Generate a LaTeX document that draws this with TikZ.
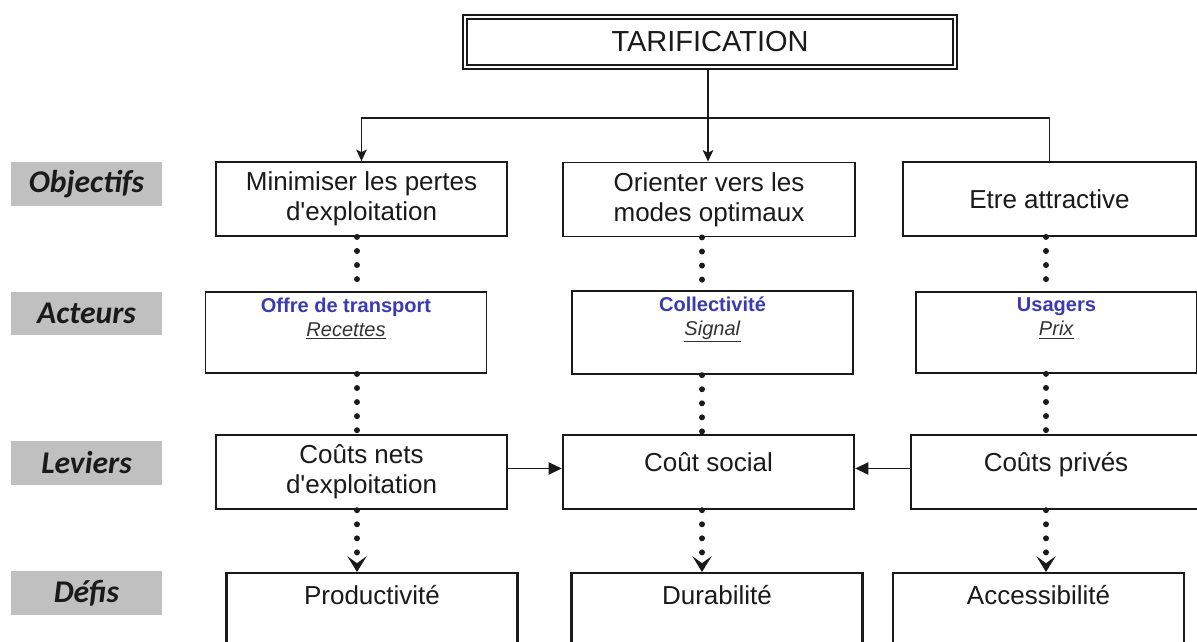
\documentclass[tikz,border=0pt]{standalone}
\usepackage{fontspec}
\setmainfont{Liberation Sans}
\newfontfamily\tfcalibri{Carlito}
\usepackage{xcolor}
\definecolor{tfink}{HTML}{1A1A1A}
\definecolor{tfgray}{HTML}{C0C0C0}
\definecolor{tfblue}{HTML}{3A3AB2}
\definecolor{tfsub}{HTML}{333333}
\usepackage{tikz}
\usetikzlibrary{arrows.meta,positioning,calc}
\tikzset{
  tfbox/.style   ={rectangle, draw=tfink, fill=white, line width=1.1pt,
                   minimum width=5.82cm, minimum height=1.48cm, align=center,
                   font=\fontsize{14.8}{17}\selectfont, text=tfink},
  tftitle/.style ={tfbox, double, double distance=1.2pt, line width=1pt,
                   minimum width=9.8cm, minimum height=1.0cm,
                   font=\fontsize{16.5}{19}\selectfont},
  tfact/.style   ={tfbox, line width=1pt, minimum width=5.62cm, minimum height=1.62cm,
                   font=\fontsize{11.4}{13.6}\selectfont},
  tflev/.style   ={tfbox, line width=1.4pt},
  tfhigh/.style  ={tflev, text height=0.36cm, text depth=0.40cm},
  tfdef/.style   ={tfbox, line width=1.4pt, anchor=north, minimum height=0pt,
                   inner ysep=0pt, text height=0.62cm, text depth=1.6cm},
  tfcat/.style   ={rectangle, fill=tfgray, minimum width=3.02cm, minimum height=0.88cm,
                   font=\tfcalibri\bfseries\itshape\fontsize{18}{20}\selectfont, text=tfink},
  tfline/.style  ={line width=0.75pt, draw=tfink},
  tfarrow/.style ={tfline, -{Stealth[length=6.5pt,width=6pt,inset=1.5pt]}},
  tftri/.style   ={tfline, -{Triangle[length=7.5pt,width=7pt]}},
  tfdots/.style  ={line width=3.4pt, draw=tfink, line cap=round,
                   dash pattern=on 0pt off 8pt},
  tfdotarr/.style={tfdots, -{Stealth[length=9pt,width=11pt,inset=4pt]}},
}
\newcommand{\tfactor}[2]{{\color{tfblue}\bfseries #1}\\
  {\color{tfsub}\underline{\textit{#2}}}\\ \strut}
\newcommand{\tfap}{\textquotesingle{}}

\begin{document}
\begin{tikzpicture}[x=0.02cm, y=-0.02cm]
  \useasboundingbox (0,0) rectangle (1197,642);
  \clip (0,0) rectangle (1197,642);
  \node[tftitle] (tarif) at (710,42) {TARIFICATION};
  % lignes
  \node[tfcat] (catobj) at (86.5,184)   {Objectifs};
  \node[tfcat] (catact) at (86.5,313.5) {Acteurs};
  \node[tfcat] (catlev) at (86.5,463)   {Leviers};
  \node[tfcat] (catdef) at (86.5,593)   {Défis};
  \node[tfbox] (obj1) at (361.5,199) {Minimiser les pertes\\d\tfap exploitation};
  \node[tfbox, minimum width=5.84cm] (obj2) at (709,199.5) {Orienter vers les\\modes optimaux};
  \node[tfbox, minimum width=5.86cm] (obj3) at (1049.5,199) {Etre attractive};
  \node[tfact] (act1) at (346,332.5)    {\tfactor{Offre de transport}{Recettes}};
  \node[tfact] (act2) at (712.5,332.5)  {\tfactor{Collectivité}{Signal}};
  \node[tfact] (act3) at (1056.5,332.5) {\tfactor{Usagers}{Prix}};
  \node[tflev]  (lev1) at (361.5,472) {Coûts nets\\d\tfap exploitation};
  \node[tfhigh] (lev2) at (708.5,472) {Coût social};
  \node[tfhigh, minimum width=5.8cm] (lev3) at (1056,472) {Coûts privés};
  \node[tfdef] (def1) at (372,572)    {Productivité};
  \node[tfdef] (def2) at (717,572)    {Durabilité};
  \node[tfdef] (def3) at (1038.5,572) {Accessibilité};
  % liaisons
  \coordinate (split) at (708,118);
  \coordinate (colA) at (357,0);
  \coordinate (colB) at (702,0);
  \coordinate (colC) at (1046,0);
  \draw[tfline] (tarif.south -| split) -- (split);
  \draw[tfarrow] (split) -| (obj1);
  \draw[tfarrow] (split) -- (split |- obj2.north);
  \draw[tfline] (split) -| (obj3);
  \foreach \c/\col in {1/colA, 2/colB, 3/colC}{
    \draw[tfdots] (obj\c.south -| \col) -- (act\c.north -| \col);
    \draw[tfdots] (act\c.south -| \col) -- (lev\c.north -| \col);
    \draw[tfdotarr] (lev\c.south -| \col) -- (def\c.north -| \col);
  }
  \draw[tftri] ([yshift=2pt]lev1.east) -- ([yshift=2pt]lev2.west);
  \draw[tftri] ([yshift=2pt]lev3.west) -- ([yshift=2pt]lev2.east);
\end{tikzpicture}
\end{document}
